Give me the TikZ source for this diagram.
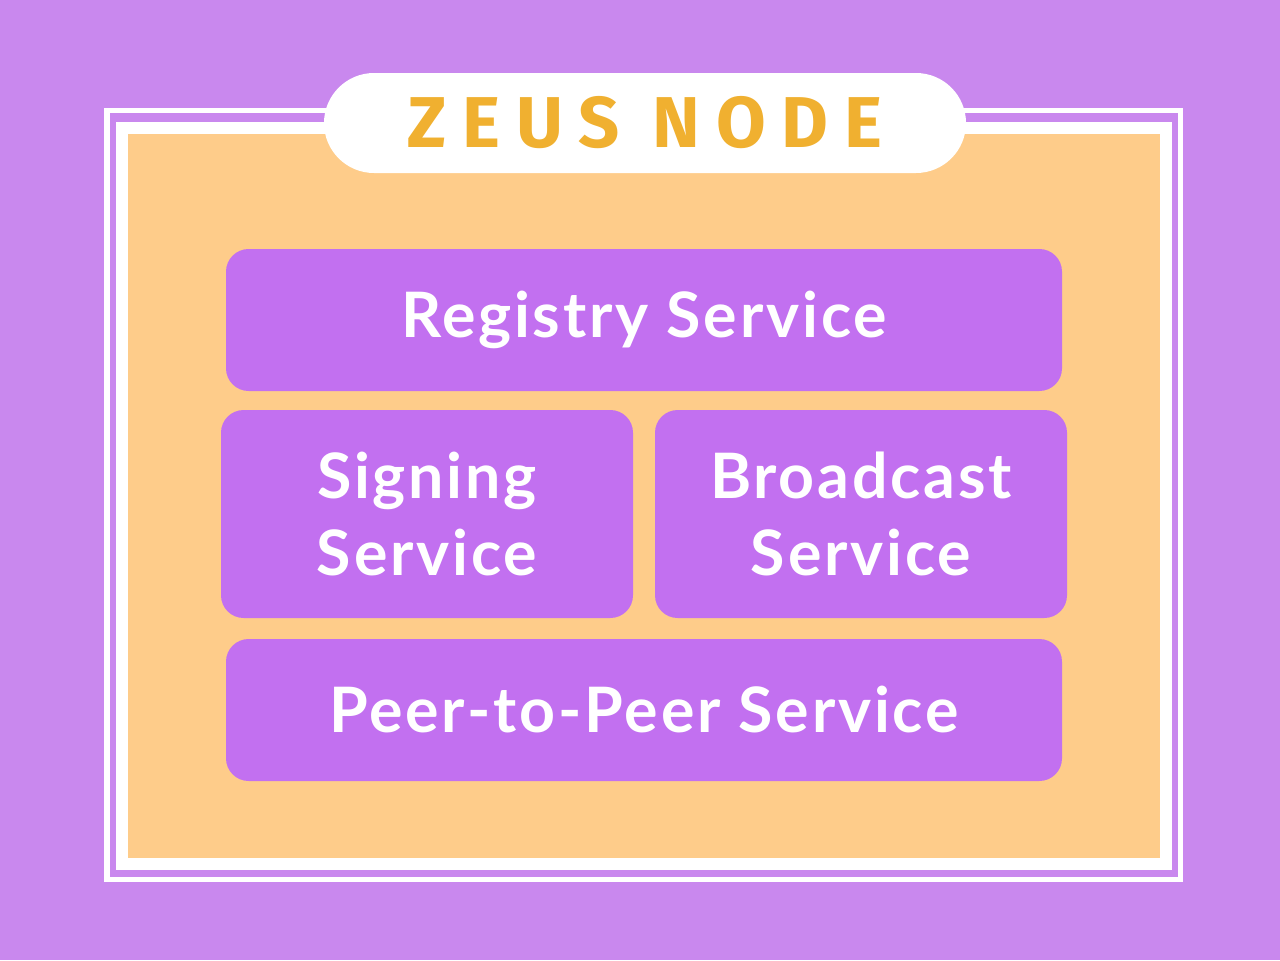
\documentclass[tikz,border=0pt]{standalone}
\usepackage{fontspec}
\setmainfont{Lato}[LetterSpace=4.5]
\newfontfamily\titlefont[LetterSpace=22]{Fira Sans}
\definecolor{bgpurple}{RGB}{201,136,238}
\definecolor{boxpurple}{RGB}{194,112,240}
\definecolor{panelorange}{RGB}{254,204,138}
\definecolor{titleorange}{RGB}{240,176,48}
\begin{document}
\begin{tikzpicture}[x=0.75pt,y=-0.75pt,
  svc/.style={fill=boxpurple, rounded corners=17pt, text=white, font=\fontsize{47}{58}\selectfont\bfseries, align=center, inner sep=0pt}]
\useasboundingbox (0,0) rectangle (1280,960);
\fill[bgpurple] (0,0) rectangle (1280,960);
% outer thin white frame
\draw[white, line width=3.8pt] (107,110.5) rectangle (1180.5,879.5);
% inner white band + orange panel
\fill[white] (116,122) rectangle (1172,870);
\fill[panelorange] (128,134) rectangle (1160,858);
% title pill
\node (title) [fill=white, rounded corners=37.5pt, minimum width=481.5pt, minimum height=75pt, inner sep=0pt,
  text=titleorange, font=\titlefont\fontsize{54}{60}\selectfont\bfseries] at (645,123) {ZEUS NODE};
% services
\node (reg) [svc, minimum width=627pt, minimum height=106.5pt] at (644,320) {Registry Service};
\node (sign) [svc, minimum width=309pt, minimum height=156pt] at (427,514) {Signing\\Service};
\node (bcast) [svc, minimum width=309pt, minimum height=156pt] at (861,514) {Broadcast\\Service};
\node (p2p) [svc, minimum width=627pt, minimum height=106.5pt] at (644,710) {Peer-to-Peer Service};
\end{tikzpicture}
\end{document}
